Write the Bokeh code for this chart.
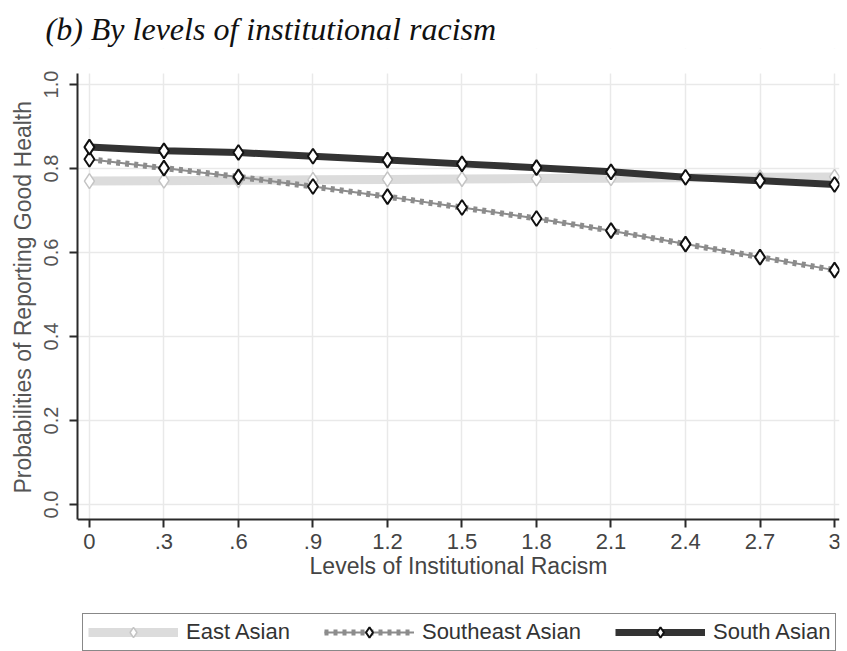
from bokeh.plotting import figure
from bokeh.models import Range1d, FixedTicker, Legend, LegendItem, BoxAnnotation, Title
from bokeh.embed import file_html
from bokeh.resources import INLINE

# ---- data ----
levels = [0.0, 0.3, 0.6, 0.9, 1.2, 1.5, 1.8, 2.1, 2.4, 2.7, 3.0]
x_tick_labels = ["0", ".3", ".6", ".9", "1.2", "1.5", "1.8", "2.1", "2.4", "2.7", "3"]
y_ticks = [0.0, 0.2, 0.4, 0.6, 0.8, 1.0]
y_tick_labels = ["0.0", "0.2", "0.4", "0.6", "0.8", "1.0"]
east_asian = [0.770, 0.771, 0.772, 0.773, 0.774, 0.775, 0.776, 0.777, 0.778, 0.779, 0.780]
southeast_asian = [0.822, 0.801, 0.780, 0.757, 0.733, 0.707, 0.681, 0.652, 0.620, 0.589, 0.558]
south_asian = [0.851, 0.842, 0.838, 0.829, 0.820, 0.811, 0.802, 0.792, 0.779, 0.771, 0.762]
series_names = ["East Asian", "Southeast Asian", "South Asian"]

SANS = "Liberation Sans"
Y_AXIS_MIN = -0.036   # bottom of the plot region (x axis line)
Y_AXIS_MAX = 1.026    # top of the plot region

# frame reaches the canvas bottom so the legend can sit under the x axis
p = figure(frame_width=762, frame_height=603, output_backend="svg", toolbar_location=None,
           x_range=Range1d(-0.048, 3.02), y_range=Range1d(-0.35, 1.0857),
           min_border_left=77, min_border_right=8, min_border_top=48, min_border_bottom=0)
p.outline_line_color = None
p.background_fill_color = "white"
p.border_fill_color = "white"

# title
p.title.text = "(b) By levels of institutional racism"
p.title.text_font = "Liberation Serif"
p.title.text_font_style = "italic"
p.title.text_font_size = "32px"
p.title.text_color = "#111111"
p.title.align = "left"
p.title.vertical_align = "top"
p.title.padding = 0
p.title.offset = -32
p.title.standoff = 0

# grids
p.xgrid.ticker = FixedTicker(ticks=levels)
p.ygrid.ticker = FixedTicker(ticks=y_ticks)
p.xgrid.grid_line_color = "#e9e9e9"
p.ygrid.grid_line_color = "#e9e9e9"
p.xgrid.grid_line_width = 1.5
p.ygrid.grid_line_width = 1.5

# white covers outside the plot region (hide grid lines there)
p.add_layout(BoxAnnotation(top=Y_AXIS_MIN, fill_color="white", fill_alpha=1.0,
                           line_color=None, level="underlay"))
p.add_layout(BoxAnnotation(bottom=Y_AXIS_MAX, fill_color="white", fill_alpha=1.0,
                           line_color=None, level="underlay"))

# x axis (fixed at the bottom of the plot region)
xa = p.xaxis[0]
xa.fixed_location = Y_AXIS_MIN
xa.ticker = FixedTicker(ticks=levels)
xa.major_label_overrides = {v: s for v, s in zip(levels, x_tick_labels)}
xa.axis_label = "Levels of Institutional Racism"
xa.axis_label_text_font = SANS
xa.axis_label_text_font_style = "normal"
xa.axis_label_text_font_size = "23px"
xa.axis_label_text_color = "#444444"
xa.axis_label_standoff = 1
xa.major_label_text_font = SANS
xa.major_label_text_font_size = "22px"
xa.major_label_text_color = "#444444"
xa.major_label_standoff = 6
xa.axis_line_color = "#2a2a2a"
xa.axis_line_width = 2
xa.major_tick_line_color = "#2a2a2a"
xa.major_tick_line_width = 2
xa.major_tick_out = 8
xa.major_tick_in = 0
xa.minor_tick_line_color = None

# y axis
ya = p.yaxis[0]
ya.bounds = (Y_AXIS_MIN, Y_AXIS_MAX)
ya.ticker = FixedTicker(ticks=y_ticks)
ya.major_label_overrides = {v: s for v, s in zip(y_ticks, y_tick_labels)}
ya.major_label_orientation = "vertical"
ya.axis_label = None
ya.major_label_text_font = SANS
ya.major_label_text_font_size = "20px"
ya.major_label_text_color = "#555555"
ya.major_label_standoff = 11
ya.axis_line_color = "#2a2a2a"
ya.axis_line_width = 2
ya.major_tick_line_color = "#2a2a2a"
ya.major_tick_line_width = 2
ya.major_tick_out = 8
ya.major_tick_in = 0
ya.minor_tick_line_color = None

# y axis title, placed along the plot region
ytitle = Title(text="Probabilities of Reporting Good Health", align="left", offset=158,
               text_font=SANS, text_font_size="23px", text_font_style="normal",
               text_color="#555555", standoff=12, padding=0)
p.add_layout(ytitle, "left")

# East Asian
ea_line = p.line(levels, east_asian, line_color="#dcdcdc", line_width=9)
ea_pts = p.scatter(levels, east_asian, marker="diamond", size=15, fill_color="white",
                   line_color="#c4c4c4", line_width=1.5)

# Southeast Asian
sea_line = p.line(levels, southeast_asian, line_color="#8c8c8c", line_width=2)
sea_dash = p.line(levels, southeast_asian, line_color="#8c8c8c", line_width=6, line_dash="4 5")
sea_pts = p.scatter(levels, southeast_asian, marker="diamond", size=15, fill_color="white",
                    line_color="#111111", line_width=2)

# South Asian
sa_line = p.line(levels, south_asian, line_color="#333333", line_width=7)
sa_pts = p.scatter(levels, south_asian, marker="diamond", size=15, fill_color="white",
                   line_color="#111111", line_width=2)

legend = Legend(items=[
    LegendItem(label=series_names[0], renderers=[ea_line, ea_pts]),
    LegendItem(label=series_names[1], renderers=[sea_line, sea_dash, sea_pts]),
    LegendItem(label=series_names[2], renderers=[sa_line, sa_pts]),
], orientation="horizontal", location=(5, 0))
legend.glyph_width = 90
legend.glyph_height = 26
legend.label_height = 20
legend.label_text_font = SANS
legend.label_text_font_size = "22px"
legend.label_text_color = "#333333"
legend.label_standoff = 8
legend.spacing = 34
legend.padding = 5
legend.margin = 0
legend.border_line_color = "#111111"
legend.border_line_width = 1.5
legend.background_fill_color = "white"
legend.background_fill_alpha = 1.0
p.add_layout(legend, "center")

open("out.html", "w").write(file_html(p, INLINE))
